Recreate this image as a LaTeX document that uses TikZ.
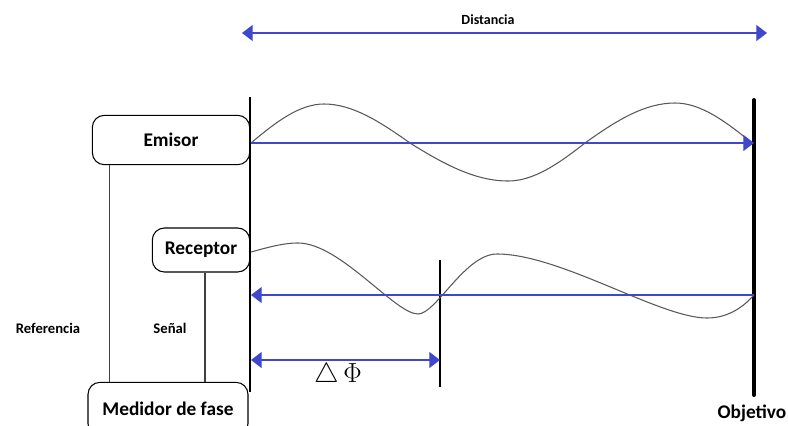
\documentclass[tikz,border=0pt]{standalone}
\usepackage{fontspec}
\setmainfont{Carlito}
\usepackage{tikz}
\usetikzlibrary{arrows.meta, calc, positioning}
\definecolor{arrowblue}{RGB}{63,72,204}

\begin{document}
\begin{tikzpicture}[x=0.75pt, y=-0.75pt]
    \tikzstyle{block} = [rectangle, draw, thick, rounded corners=9pt, font=\fontsize{14.5}{16}\selectfont\bfseries, inner sep=0pt]
    \tikzstyle{label} = [font=\fontsize{11}{13}\selectfont\bfseries]
    \tikzstyle{line} = [draw, arrowblue, line width=0.9pt, -{Triangle[length=8pt, width=12pt]}]
    \tikzstyle{twoway} = [line, {Triangle[length=8pt, width=12pt]}-{Triangle[length=8pt, width=12pt]}]
    \tikzstyle{wire} = [draw, black!75, line width=0.8pt]
    \tikzstyle{wave} = [draw, black!65, line width=0.8pt]
    \useasboundingbox (0,0) rectangle (788,425);

    \node [block, minimum width=118pt, minimum height=37pt] (emisor) at (171,140) {Emisor};
    \node [block, minimum width=73pt, minimum height=33pt] (receptor) at (201,250) {Receptor};
    \node [block, minimum width=120pt, minimum height=40pt] (medidor) at (168,409) {Medidor de fase};

    \node [label] (referencia) at (48,328) {Referencia};
    \node [label] (senal) at (170,328) {Señal};
    \node [label, font=\fontsize{10.5}{12}\selectfont\bfseries] (distancia) at (488,20) {Distancia};
    \node [font=\fontsize{14.5}{16}\selectfont\bfseries] (objetivo) at (752,413) {Objetivo};

    % reference lines
    \coordinate (origtop) at (250,97);
    \coordinate (origbot) at (250,392);
    \coordinate (objtop) at (754,100);
    \coordinate (objbot) at (754,395);
    \coordinate (phitop) at (440,260);
    \coordinate (phibot) at (440,387);
    \draw [black, line width=0.8pt] (origtop) -- (origbot);
    \draw [black, line width=3pt, line cap=round] (objtop) -- (objbot);
    \draw [black, line width=0.8pt] (phitop) -- (phibot);

    % connections to the phase meter
    \coordinate (reftop) at ($(emisor.south west)+(18,0)$);
    \coordinate (sigtop) at ($(receptor.south)+(4,0)$);
    \path [wire] (reftop) -- (reftop |- medidor.north);
    \path [wire] (sigtop) -- (sigtop |- medidor.north);

    % waves
    \path [wave] (251,143) .. controls (277,121) and (300,104) .. (324,104)
        .. controls (352,104) and (379,121) .. (410,143)
        .. controls (445,165) and (476,181) .. (508,181)
        .. controls (533,181) and (557,165) .. (585,143)
        .. controls (617,120) and (645,103) .. (675,103)
        .. controls (700,103) and (724,120) .. (752,143);
    \path [wave] (251,252) .. controls (266,248) and (282,243) .. (298,243)
        .. controls (340,243) and (395,314) .. (418,314)
        .. controls (436,314) and (465,254) .. (497,254)
        .. controls (560,254) and (660,318) .. (707,318)
        .. controls (730,318) and (745,305) .. (754,295);

    % arrows
    \coordinate (dleft) at (242,33);
    \coordinate (dright) at (767,33);
    \coordinate (eleft) at (251,143);
    \coordinate (eright) at (754,143);
    \coordinate (rleft) at (251,295);
    \coordinate (rright) at (754,295);
    \coordinate (pleft) at (251,360);
    \coordinate (pright) at (440,360);
    \path [twoway] (dleft) -- (dright);
    \path [line] (eleft) -- (eright);
    \path [line] (rright) -- (rleft);
    \path [twoway] (pleft) -- (pright);
    \node [font=\fontsize{20}{24}\selectfont] (dphi) at (338,376) {$\triangle\,\Phi$};
\end{tikzpicture}
\end{document}
